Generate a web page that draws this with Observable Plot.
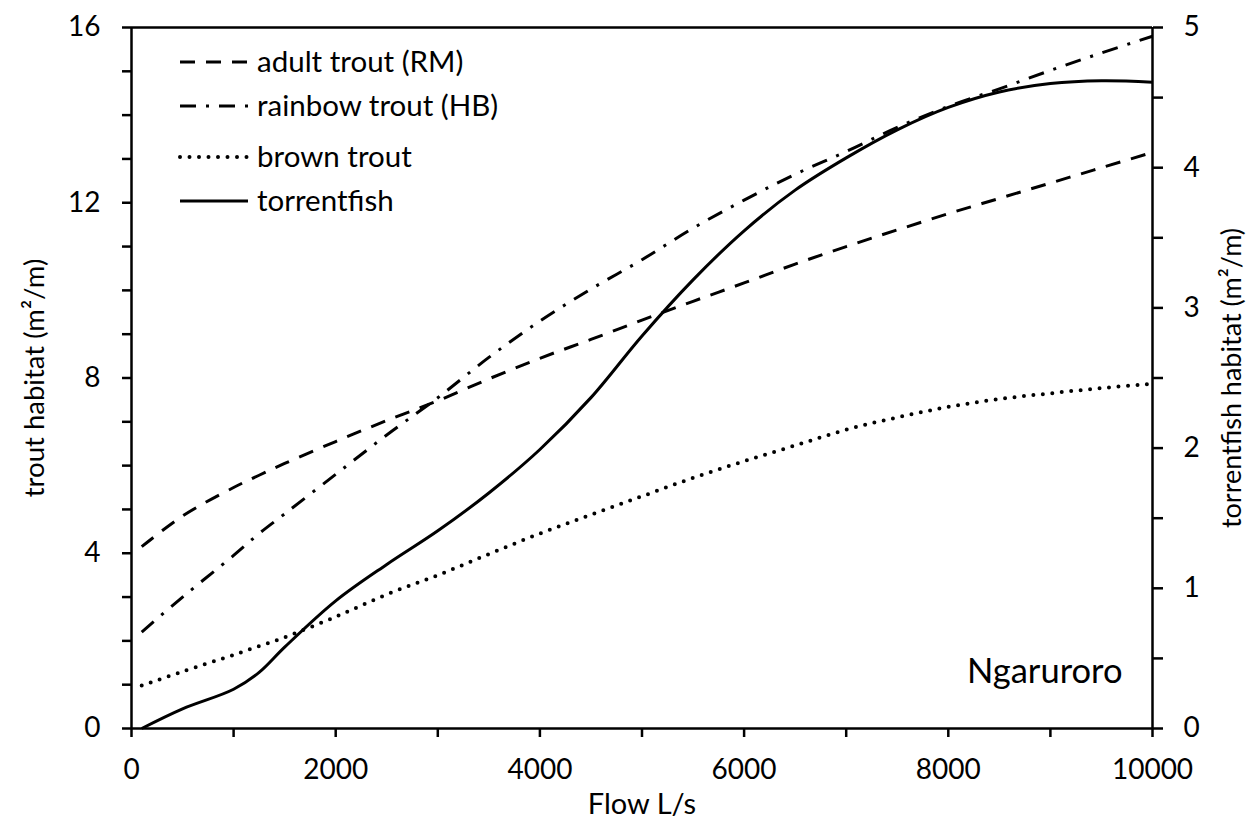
<!DOCTYPE html>
<html>
<head>
<meta charset="utf-8">
<script src="https://cdn.jsdelivr.net/npm/d3@7"></script>
<script src="https://cdn.jsdelivr.net/npm/@observablehq/plot@0.6"></script>
<style>
  body { margin: 0; background: #fff; }
  #chart { position: relative; width: 1250px; height: 831px; font-family: Lato, "Open Sans", sans-serif; }
  #chart svg { position: absolute; left: 0; top: 0; }
</style>
</head>
<body>
<div id="chart"></div>
<script>
// Habitat vs flow, Ngaruroro River
const flow = [100, 500, 1000, 1250, 1500, 2000, 2500, 3000, 3500, 4000, 4500, 5000,
              5500, 6000, 6500, 7000, 7500, 8000, 8500, 9000, 9500, 10000];
// trout habitat (m²/m), left axis
const adultTroutRM   = [4.15, 4.85, 5.5, 5.78, 6.05, 6.55, 7.03, 7.48, 7.98, 8.45, 8.88, 9.32,
                        9.75, 10.17, 10.6, 11.0, 11.38, 11.75, 12.1, 12.45, 12.8, 13.15];
const rainbowTroutHB = [2.2, 3.0, 3.95, 4.45, 4.9, 5.8, 6.7, 7.55, 8.47, 9.3, 10.03, 10.7,
                        11.42, 12.06, 12.65, 13.17, 13.72, 14.2, 14.6, 15.02, 15.42, 15.8];
const brownTrout     = [0.98, 1.3, 1.68, 1.88, 2.08, 2.55, 3.06, 3.5, 3.98, 4.45, 4.88, 5.3,
                        5.72, 6.1, 6.46, 6.82, 7.1, 7.34, 7.52, 7.65, 7.77, 7.87];
// torrentfish habitat (m²/m), right axis
const torrentfish    = [0.0, 0.14, 0.28, 0.40, 0.58, 0.91, 1.17, 1.41, 1.68, 1.99, 2.36, 2.8,
                        3.2, 3.55, 3.84, 4.07, 4.27, 4.43, 4.54, 4.6, 4.62, 4.61];

const xTicks = d3.range(0, 10001, 1000);
const leftTicks = d3.range(0, 17, 1);
const rightTicks = d3.range(0, 5.01, 0.5);
const leftMax = 16, rightMax = 5;
const toLeft = v => v * leftMax / rightMax;

const seriesNames = ["adult trout (RM)", "rainbow trout (HB)", "brown trout", "torrentfish"];
const dashes = ["15,11", "16,10,3,10", "0,9.5", null];

const ink = "#000";
const font = "Lato, 'Open Sans', sans-serif";
const lineStyle = i => ({
  stroke: ink,
  strokeWidth: i === 2 ? 4 : 3,
  strokeDasharray: dashes[i] ?? undefined,
  strokeLinecap: i === 2 ? "round" : "butt",
  curve: "catmull-rom"
});

const chart = Plot.plot({
  width: 1250,
  height: 831,
  marginLeft: 131,
  marginRight: 98,
  marginTop: 27,
  marginBottom: 103,
  style: { fontFamily: font, fontSize: "28px", color: ink, background: "#fff", overflow: "visible" },
  x: { domain: [0, 10000] },
  y: { domain: [0, leftMax] },
  marks: [
    Plot.axisX(xTicks, {
      tickSize: 9, tickPadding: 22, strokeWidth: 2.5, label: null,
      tickFormat: d => d % 2000 === 0 ? String(d) : ""
    }),
    Plot.axisY(leftTicks, {
      anchor: "left", tickSize: 9, tickPadding: 22, strokeWidth: 2.5, label: null,
      tickFormat: d => d % 4 === 0 ? String(d) : ""
    }),
    Plot.axisY(rightTicks.map(toLeft), {
      anchor: "right", tickSize: 10, tickPadding: 21, strokeWidth: 2.5, label: null,
      tickFormat: d => {
        const v = d * rightMax / leftMax;
        return Math.abs(v - Math.round(v)) < 1e-9 ? String(Math.round(v)) : "";
      }
    }),
    Plot.ruleY([0, leftMax], { stroke: ink, strokeWidth: 2.5 }),
    Plot.ruleX([0, 10000], { stroke: ink, strokeWidth: 2.5 }),

    Plot.line(flow, { x: flow, y: adultTroutRM, ...lineStyle(0) }),
    Plot.line(flow, { x: flow, y: rainbowTroutHB, ...lineStyle(1) }),
    Plot.line(flow, { x: flow, y: brownTrout, ...lineStyle(2) }),
    Plot.line(flow, { x: flow, y: torrentfish.map(toLeft), ...lineStyle(3) }),

    Plot.text(["Flow L/s"], { frameAnchor: "bottom", textAnchor: "middle", dy: 85, fontSize: 29, fill: ink }),
    Plot.text(["trout habitat (m²/m)"], { frameAnchor: "left", textAnchor: "middle", rotate: -90, dx: -96, fontSize: 27.5, fill: ink }),
    Plot.text(["torrentfish habitat (m²/m)"], { frameAnchor: "right", textAnchor: "middle", rotate: -90, dx: 80, fontSize: 27, fill: ink }),
    Plot.text(["Ngaruroro"], { frameAnchor: "bottom-right", textAnchor: "end", dx: -30, dy: -46, fontSize: 34.5, fill: ink })
  ]
});

const root = document.getElementById("chart");
root.appendChild(chart);

// Legend, upper left inside the frame
const rowsY = [62, 106, 157, 201];
const legend = d3.select(root).append("svg")
  .attr("width", 1250).attr("height", 831)
  .style("pointer-events", "none");
seriesNames.forEach((name, i) => {
  const s = lineStyle(i);
  legend.append("line")
    .attr("x1", 180).attr("x2", 248)
    .attr("y1", rowsY[i]).attr("y2", rowsY[i])
    .attr("stroke", s.stroke)
    .attr("stroke-width", s.strokeWidth)
    .attr("stroke-dasharray", dashes[i])
    .attr("stroke-linecap", s.strokeLinecap);
  legend.append("text")
    .attr("x", 257).attr("y", rowsY[i])
    .attr("dy", "0.35em")
    .attr("font-family", font)
    .attr("font-size", 29.5)
    .attr("fill", ink)
    .text(name);
});
</script>
</body>
</html>
